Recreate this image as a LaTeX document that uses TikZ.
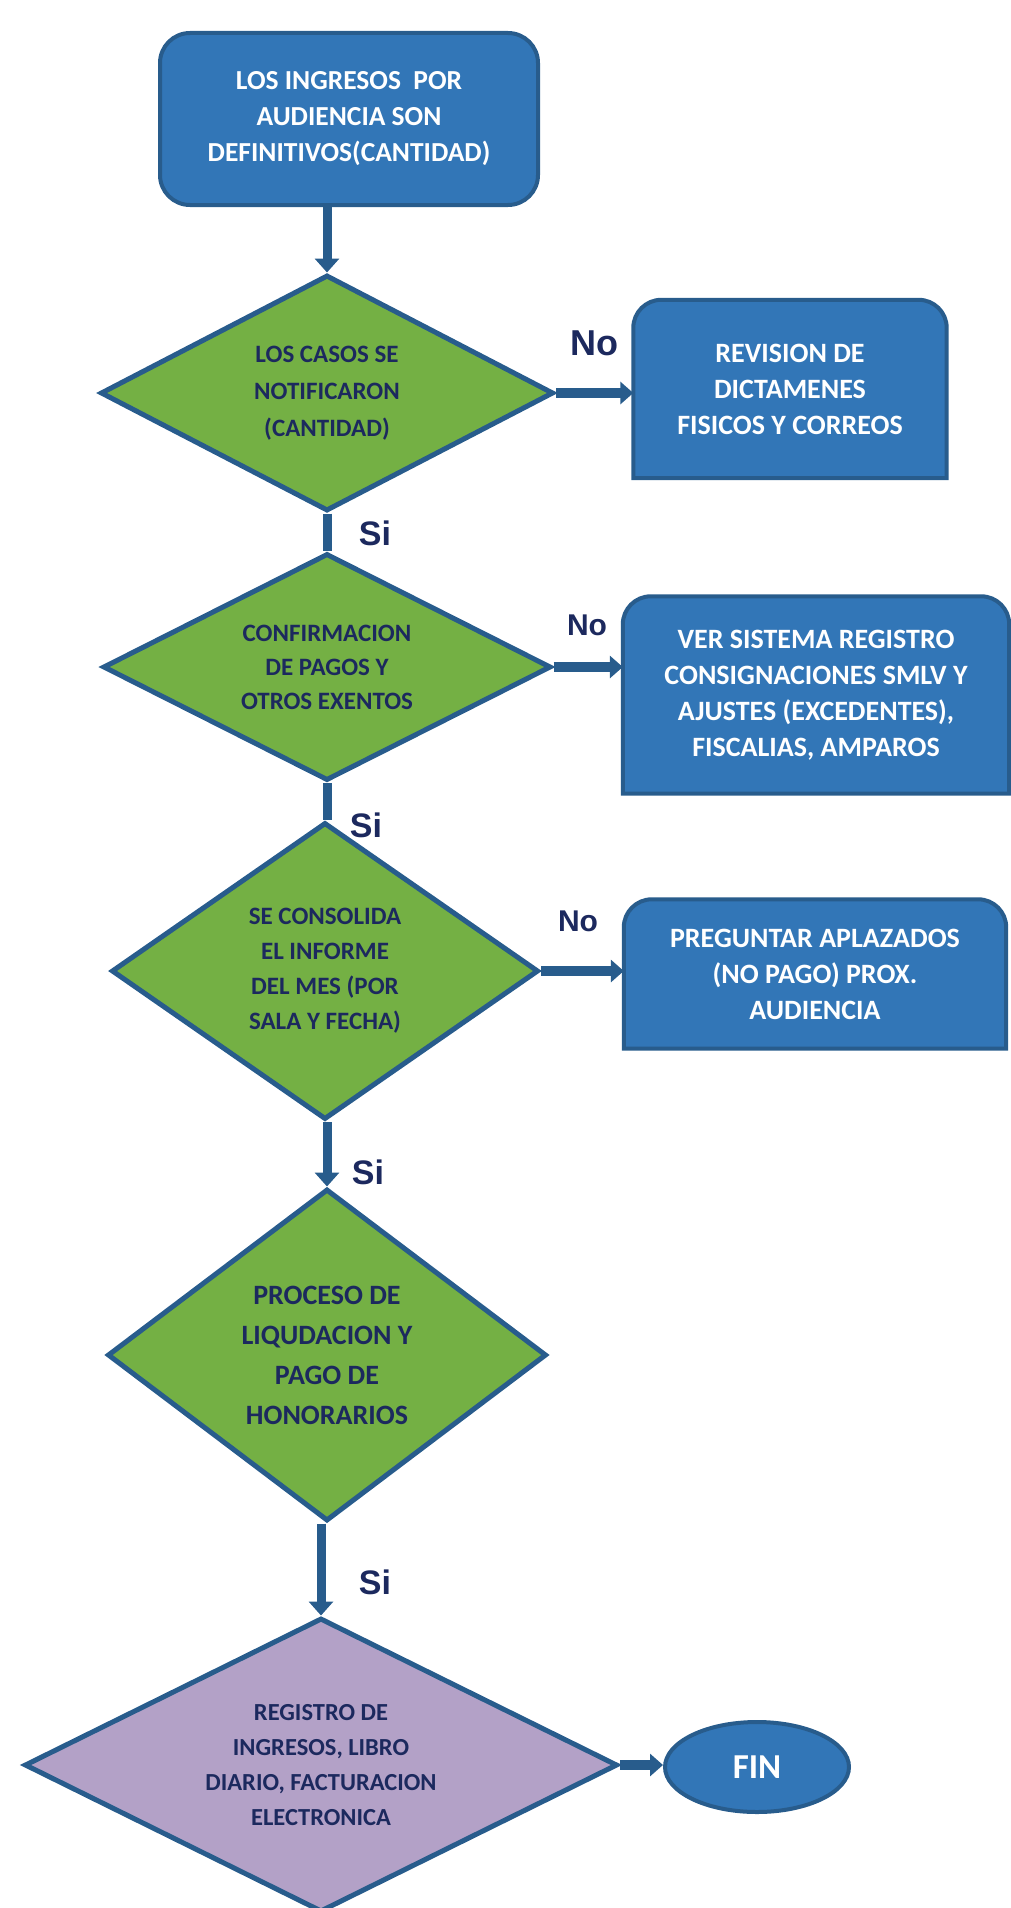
\documentclass[tikz,border=0pt]{standalone}
\usepackage{fontspec}
\setmainfont{Carlito}
\newfontfamily\answerfont{Liberation Sans}
\usetikzlibrary{shapes.geometric,arrows.meta,backgrounds}

\definecolor{boxblue}{HTML}{3276B7}
\definecolor{edgeblue}{HTML}{285C8C}
\definecolor{leafgreen}{HTML}{74B044}
\definecolor{lilac}{HTML}{B3A1C7}
\definecolor{navy}{HTML}{1C295E}

\tikzset{
  startbox/.style={rectangle, rounded corners=30pt, fill=boxblue, draw=edgeblue,
    line width=4pt, text=white, align=center, inner sep=0pt,
    font=\bfseries\fontsize{27.5}{36}\selectfont},
  sidebox/.style={rectangle, text=white, align=center, inner sep=0pt,
    font=\bfseries\fontsize{28}{36}\selectfont},
  roof/.style={fill=boxblue, draw=edgeblue, line width=4pt},
  decision/.style={diamond, fill=leafgreen, draw=edgeblue, line width=5pt,
    text=navy, align=center, inner sep=0pt},
  endnode/.style={ellipse, fill=boxblue, draw=edgeblue, line width=4pt,
    text=white, inner sep=0pt, font=\bfseries\fontsize{35}{35}\selectfont},
  flow/.style={draw=edgeblue, line width=9pt},
  flowarrow/.style={flow, -{Triangle[width=24pt,length=14pt]}},
  sidearrow/.style={draw=edgeblue, line width=10pt, -{Triangle[width=22pt,length=13pt]}},
  answer/.style={text=navy, inner sep=0pt, font=\answerfont\bfseries\fontsize{34}{34}\selectfont}
}

\begin{document}
\begin{tikzpicture}[x=1pt,y=-1pt]
  \useasboundingbox (0,0) rectangle (1010,1908);

  % main column
  \node[startbox, minimum width=378pt, minimum height=172pt] (start) at (349,119)
    {LOS INGRESOS\ \ POR\\AUDIENCIA SON\\DEFINITIVOS(CANTIDAD)};
  \node[decision, minimum width=453pt, minimum height=236pt, shape aspect=1.9,
    font=\bfseries\fontsize{25}{37}\selectfont] (casos) at (327,393)
    {LOS CASOS SE\\NOTIFICARON\\(CANTIDAD)};
  \node[decision, minimum width=448pt, minimum height=227pt, shape aspect=1.9,
    font=\bfseries\fontsize{25}{34}\selectfont] (pagos) at (327,667)
    {CONFIRMACION\\DE PAGOS Y\\OTROS EXENTOS};
  \node[decision, minimum width=427pt, minimum height=297pt, shape aspect=1.4,
    font=\bfseries\fontsize{25}{35}\selectfont] (informe) at (325,971)
    {SE CONSOLIDA\\EL INFORME\\DEL MES (POR\\SALA Y FECHA)};
  \node[decision, minimum width=439pt, minimum height=332pt, shape aspect=1.3,
    font=\bfseries\fontsize{28}{40}\selectfont] (proceso) at (327,1355)
    {PROCESO DE\\LIQUDACION Y\\PAGO DE\\HONORARIOS};
  \node[decision, fill=lilac, minimum width=593pt, minimum height=294pt, shape aspect=2,
    font=\bfseries\fontsize{24.5}{35}\selectfont] (registro) at (321,1765)
    {REGISTRO DE\\INGRESOS, LIBRO\\DIARIO, FACTURACION\\ELECTRONICA};

  % side boxes
  \node[sidebox, minimum width=313pt, minimum height=178pt] (revision) at (790,389)
    {REVISION DE\\DICTAMENES\\FISICOS Y CORREOS};
  \node[sidebox, minimum width=386pt, minimum height=197pt] (sistema) at (816,695)
    {VER SISTEMA REGISTRO\\CONSIGNACIONES SMLV Y\\AJUSTES (EXCEDENTES),\\FISCALIAS, AMPAROS};
  \node[sidebox, minimum width=382pt, minimum height=149pt] (aplazados) at (815,974)
    {PREGUNTAR APLAZADOS\\(NO PAGO) PROX.\\AUDIENCIA};
  \node[endnode, minimum width=184pt, minimum height=90pt] (fin) at (757,1767) {FIN};

  \begin{scope}[on background layer]
    \draw[roof] (revision.south west) -- ([yshift=-28pt]revision.north west)
      arc[start angle=180, end angle=90, radius=28pt] -- ([xshift=-28pt]revision.north east)
      arc[start angle=90, end angle=0, radius=28pt] -- (revision.south east) -- cycle;
    \draw[roof] (sistema.south west) -- ([yshift=-28pt]sistema.north west)
      arc[start angle=180, end angle=90, radius=28pt] -- ([xshift=-28pt]sistema.north east)
      arc[start angle=90, end angle=0, radius=28pt] -- (sistema.south east) -- cycle;
    \draw[roof] (aplazados.south west) -- ([yshift=-28pt]aplazados.north west)
      arc[start angle=180, end angle=90, radius=28pt] -- ([xshift=-28pt]aplazados.north east)
      arc[start angle=90, end angle=0, radius=28pt] -- (aplazados.south east) -- cycle;
  \end{scope}

  % connectors
  \draw[flowarrow] (casos.north |- start.south) -- (casos.north);
  \draw[flow] (casos.south) -- (pagos.north);
  \draw[flow] (pagos.south) -- (pagos.south |- informe.north);
  \draw[flowarrow] (proceso.north |- informe.south) -- (proceso.north);
  \draw[flowarrow] (registro.north |- proceso.south) -- (registro.north);
  \draw[sidearrow] (casos.east) -- (casos.east -| revision.west);
  \draw[sidearrow] (pagos.east) -- (pagos.east -| sistema.west);
  \draw[sidearrow] (informe.east) -- (informe.east -| aplazados.west);
  \draw[sidearrow] (registro.east) -- (registro.east -| fin.west);

  % answers
  \node[answer, font=\answerfont\bfseries\fontsize{36}{36}\selectfont] (no1) at (594,343) {No};
  \node[answer, font=\answerfont\bfseries\fontsize{30}{30}\selectfont] (no2) at (587,625) {No};
  \node[answer, font=\answerfont\bfseries\fontsize{30}{30}\selectfont] (no3) at (578,921) {No};
  \node[answer] (si1) at (375,533) {Si};
  \node[answer] (si2) at (366,825) {Si};
  \node[answer] (si3) at (368,1172) {Si};
  \node[answer] (si4) at (375,1582) {Si};
\end{tikzpicture}
\end{document}
